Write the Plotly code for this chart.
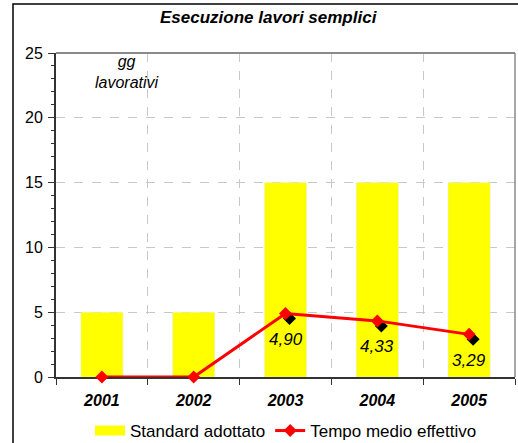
import plotly.graph_objects as go

anni = ["2001", "2002", "2003", "2004", "2005"]
standard = [5, 5, 15, 15, 15]
tempo_medio = [0, 0, 4.90, 4.33, 3.29]
etichette = ["", "", "4,90", "4,33", "3,29"]

W, H = 518, 443
L, R, T, B = 56, 3, 53, 66
pw, ph = W - L - R, H - T - B
dx, dy = 4, 5  # ombra dei marker
font = "Liberation Sans, Arial, sans-serif"

fig = go.Figure()
fig.add_trace(go.Bar(x=anni, y=standard, name="Standard adottato", marker_color="#FFFF00",
                     width=0.46, xaxis="x", yaxis="y", showlegend=False))
# voce di legenda per le barre (rettangolo largo come nell'originale)
fig.add_trace(go.Scatter(x=[None], y=[None], mode="lines", name="Standard adottato",
                         line=dict(color="#FFFF00", width=12), xaxis="x", yaxis="y"))
fig.add_trace(go.Scatter(x=list(range(len(anni))), y=tempo_medio, mode="markers", showlegend=False,
                         marker=dict(symbol="diamond", size=10, color="black"),
                         cliponaxis=False, xaxis="x2", yaxis="y2", hoverinfo="skip"))
fig.add_trace(go.Scatter(x=list(range(len(anni))), y=tempo_medio, mode="lines+markers",
                         name="Tempo medio effettivo", line=dict(color="#FF0000", width=3),
                         marker=dict(symbol="diamond", size=10, color="#FF0000"),
                         cliponaxis=False, xaxis="x3", yaxis="y3"))

for i, (v, t) in enumerate(zip(tempo_medio, etichette)):
    if t:
        fig.add_annotation(x=i, y=v, xref="x3", yref="y3", text=t, showarrow=False, yshift=-26,
                           font=dict(family=font, size=17, color="black", style="italic"))

xpu = pw / 5
ypu = ph / 25
fig.update_layout(
    width=W, height=H, margin=dict(l=L, r=R, t=T, b=B, autoexpand=False),
    paper_bgcolor="white", plot_bgcolor="rgba(0,0,0,0)",
    font=dict(family=font, size=15, color="black"),
    showlegend=True,
    legend=dict(orientation="h", x=(90 - L) / pw, y=(T + ph - 431) / ph, yanchor="middle",
                xanchor="left", font=dict(size=17), tracegroupgap=0, itemwidth=30,
                bgcolor="rgba(0,0,0,0)"),
    xaxis=dict(type="category", range=[-0.5, 4.5], tickson="boundaries", ticks="outside", ticklen=6,
               tickcolor="#333", showgrid=True, gridcolor="#C8C8C8", griddash="dash", gridwidth=1,
               showline=True, linecolor="#333", linewidth=2, automargin=False,
               tickfont=dict(size=16, weight="bold", style="italic"), ticklabelstandoff=8),
    yaxis=dict(range=[0, 25], tickvals=[0, 5, 10, 15, 20, 25], ticks="outside", ticklen=6,
               tickcolor="#333", showgrid=True, gridcolor="#C8C8C8", griddash="dash",
               showline=True, linecolor="#333", linewidth=2, zeroline=False, automargin=False,
               tickfont=dict(size=16), ticklabelstandoff=2,
               minor=dict(dtick=1, ticks="outside", ticklen=3, tickcolor="#333", showgrid=False)),
    xaxis2=dict(domain=[dx / pw, 1], range=[-0.5, -0.5 + (pw - dx) / xpu], visible=False,
                anchor="y2", fixedrange=True),
    yaxis2=dict(domain=[0, (ph - dy) / ph], range=[dy / ypu, 25], visible=False,
                anchor="x2", fixedrange=True),
    xaxis3=dict(domain=[0, 1], range=[-0.5, 4.5], visible=False, anchor="y3"),
    yaxis3=dict(domain=[0, 1], range=[0, 25], visible=False, anchor="x3"),
)

# cornice superiore/destra dell'area del grafico
fig.add_shape(type="line", xref="paper", yref="paper", x0=0, x1=1, y0=1, y1=1,
              line=dict(color="#8A8A8A", width=2))
fig.add_shape(type="line", xref="paper", yref="paper", x0=1, x1=1, y0=0, y1=1,
              line=dict(color="#8A8A8A", width=1.5))
# bordo esterno
fig.add_shape(type="rect", xref="paper", yref="paper", x0=(13 - L) / pw, x1=1.2,
              y0=-0.5, y1=(T + ph - 4) / ph, line=dict(color="black", width=1.5))

fig.add_annotation(x=(269 - L) / pw, y=(T + ph - 18) / ph, xref="paper", yref="paper",
                   xanchor="center", yanchor="middle",
                   text="Esecuzione lavori semplici", showarrow=False,
                   font=dict(size=17, weight="bold", style="italic"))
fig.add_annotation(x=(127 - L) / pw, y=(T + ph - 72) / ph, xref="paper", yref="paper",
                   xanchor="center", yanchor="middle",
                   text="gg<br>lavorativi", showarrow=False,
                   font=dict(size=16, style="italic"))

fig.write_html("out.html", config={"displayModeBar": False},
               post_script="document.body.style.margin='0';")
